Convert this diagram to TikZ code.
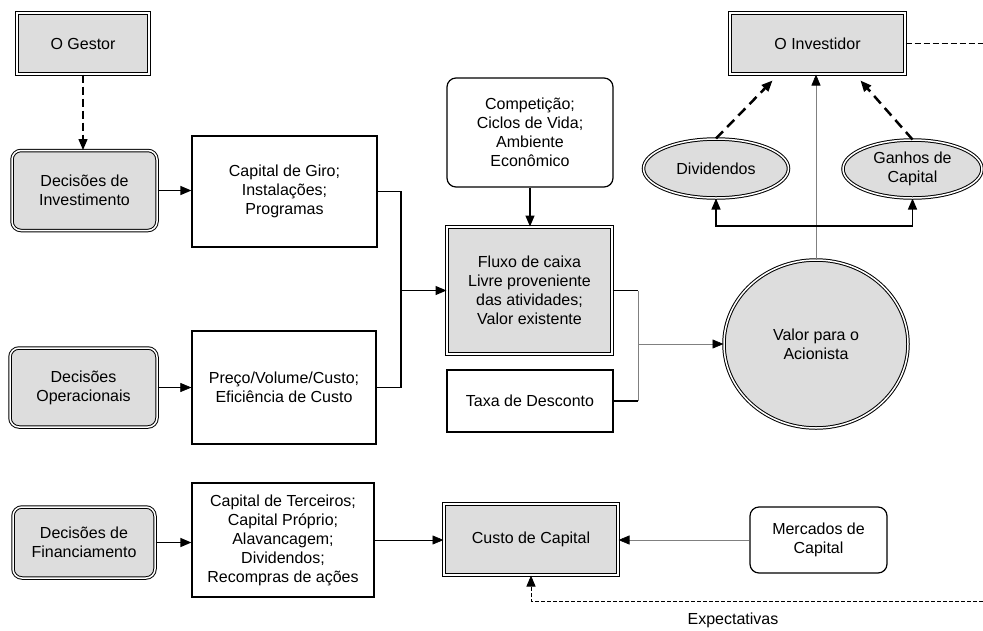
\documentclass[tikz,border=0pt]{standalone}
\usepackage{fontspec}
\setmainfont{Liberation Sans}
\usetikzlibrary{arrows.meta}
\usetikzlibrary{calc}
\usetikzlibrary{shapes.geometric}
\definecolor{boxgray}{RGB}{221,221,221}
\tikzset{
  base/.style={draw, align=center, inner sep=2pt, font=\fontsize{16}{19}\selectfont},
  gbox/.style={base, fill=boxgray, double, double distance=1.5pt, line width=1pt},
  wbox/.style={base, line width=1.2pt},
  rbox/.style={wbox, rounded corners=9pt},
  rgbox/.style={gbox, rounded corners=9pt},
  oval/.style={gbox, ellipse, inner sep=0pt},
  line/.style={line width=1.3pt},
  thin line/.style={line width=0.6pt},
  gray arrow/.style={thin line, draw=gray, -{Triangle[length=11pt,width=9pt,color=black]}},
  thick dash/.style={line width=2.5pt, dash pattern=on 10pt off 6pt},
}
\begin{document}
\begin{tikzpicture}[x=1pt,y=-1pt,>={Triangle[length=11pt,width=9pt]}]
\useasboundingbox (0,0) rectangle (983,630);
% left column
\node[gbox, minimum width=132pt, minimum height=61pt] (gestor) at (83,43.5) {O Gestor};
\node[rgbox, minimum width=145pt, minimum height=80pt] (invest) at (84.5,190.5) {Decisões de\\Investimento};
\node[rgbox, minimum width=147pt, minimum height=79pt] (oper) at (83.5,387.5) {Decisões\\Operacionais};
\node[rgbox, minimum width=142pt, minimum height=71pt] (financ) at (84,542.5) {Decisões de\\Financiamento};
\node[wbox, minimum width=185pt, minimum height=111pt] (giro) at (284.5,191.5) {Capital de Giro;\\Instalações;\\Programas};
\node[wbox, minimum width=184pt, minimum height=113pt] (preco) at (284,387.5) {Preço/Volume/Custo;\\Eficiência de Custo};
\node[wbox, minimum width=182pt, minimum height=114pt] (terc) at (283,540) {Capital de Terceiros;\\Capital Próprio;\\Alavancagem;\\Dividendos;\\Recompras de ações};
% middle column
\node[rbox, minimum width=166pt, minimum height=109pt] (compet) at (530,132.5) {Competição;\\Ciclos de Vida;\\Ambiente\\Econômico};
\node[gbox, minimum width=165pt, minimum height=127pt] (fluxo) at (529.5,290.5) {Fluxo de caixa\\Livre proveniente\\das atividades;\\Valor existente};
\node[wbox, minimum width=166pt, minimum height=62pt] (taxa) at (530,401) {Taxa de Desconto};
\node[gbox, minimum width=174pt, minimum height=71pt] (custo) at (531,539.5) {Custo de Capital};
% right column
\node[gbox, minimum width=175pt, minimum height=61pt] (investidor) at (817.5,43.5) {O Investidor};
\node[oval, minimum width=145pt, minimum height=59pt] (divid) at (716,168.5) {Dividendos};
\node[oval, minimum width=139pt, minimum height=58pt] (ganhos) at (912.5,169) {Ganhos de\\Capital};
\node[oval, minimum width=184pt, minimum height=168pt] (valor) at (816,344) {Valor para o\\Acionista};
\node[rbox, minimum width=137pt, minimum height=66pt] (merc) at (818.5,540) {Mercados de\\Capital};
\node[font=\fontsize{16}{19}\selectfont] (expect) at (733,620) {Expectativas};
% connectors
\draw[line, dash pattern=on 8pt off 4pt, ->] (gestor.south) -- (gestor.south |- invest.north);
\draw[line, ->] (invest.east) -- (invest.east -| giro.west);
\draw[thin line, ->] (oper.east) -- (oper.east -| preco.west);
\draw[line, ->] (financ.east) -- (financ.east -| terc.west);
\coordinate (jf) at (401,290.5);
\draw[line] (giro.east) -| (jf);
\draw[line] (preco.east) -| (jf);
\draw[line, ->] (jf) -- (fluxo.west);
\draw[line, ->] (compet.south) -- (compet.south |- fluxo.north);
\coordinate (jt) at (638,344);
\draw[line] (fluxo.east) -- (fluxo.east -| jt);
\draw[line] (taxa.east) -- (taxa.east -| jt);
\draw[thin line, gray] (fluxo.east -| jt) -- (taxa.east -| jt);
\draw[gray arrow] (jt) -- (valor.west);
\draw[gray arrow] (valor.north) -- (valor.north |- investidor.south);
\coordinate (jd) at (816,226);
\draw[line, ->] (jd) -| (divid.south);
\draw[line, ->] (jd) -| (ganhos.south);
\draw[thick dash, ->] (divid.north) -- ($(investidor.south)+(-45,6)$);
\draw[thick dash, ->] (ganhos.north) -- ($(investidor.south)+(43,6)$);
\coordinate (rt) at (983,43.5);
\draw[line, dash pattern=on 6pt off 3pt] (investidor.east) -- (rt);
\coordinate (rb) at (983,601);
\draw[line width=1pt, dash pattern=on 4pt off 2pt, ->] (rb) -| (custo.south);
\draw[thin line, ->] (terc.east) -- (terc.east -| custo.west);
\draw[gray arrow] (merc.west) -- (merc.west -| custo.east);
\end{tikzpicture}
\end{document}
